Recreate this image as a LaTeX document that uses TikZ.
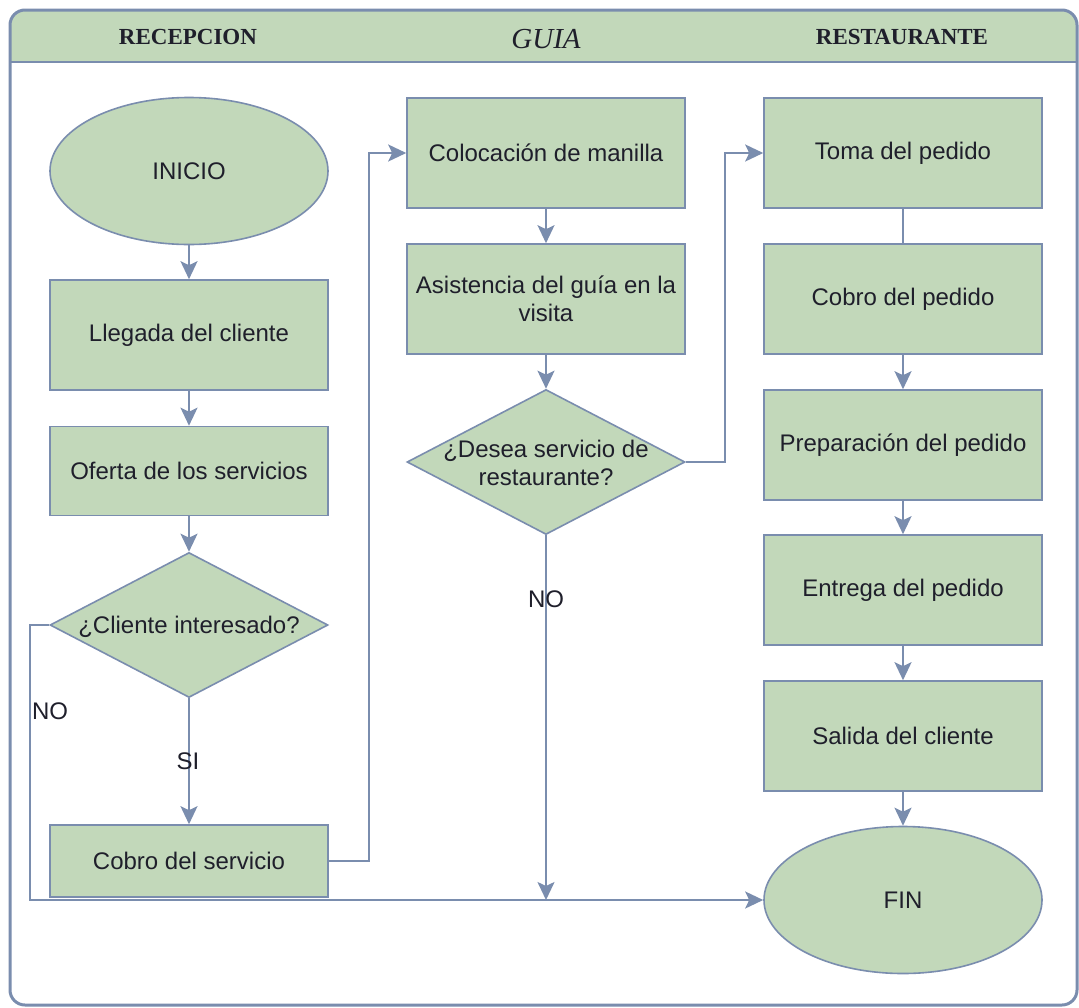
\documentclass[tikz,border=0pt]{standalone}
\usepackage{fontspec}
\setmainfont{Liberation Sans}
\newfontfamily\hdrfont{Liberation Serif}
\usetikzlibrary{shapes.geometric,arrows.meta}
\definecolor{fillg}{HTML}{C2D8BA}
\definecolor{strk}{HTML}{7A8DAE}
\definecolor{txt}{HTML}{1F1F2B}
\begin{document}
\begin{tikzpicture}[x=1pt,y=-1pt,
 base/.style={draw=strk, line width=1.6pt, fill=fillg, text=txt, font=\fontsize{24}{28}\selectfont, align=center, inner sep=0pt},
 proc/.style={base, rectangle, minimum width=278pt, minimum height=110pt},
 term/.style={base, ellipse, minimum width=278pt, minimum height=147pt},
 dec/.style={base, diamond, minimum width=278pt, minimum height=145pt},
 conn/.style={draw=strk, line width=2pt},
 arr/.style={conn, -{Stealth[length=18pt,width=17pt,inset=4pt]}},
 lbl/.style={text=txt, font=\fontsize{24}{28}\selectfont, inner sep=0pt},
 hdr/.style={text=txt, inner sep=0pt}]
\useasboundingbox (0,0) rectangle (1079,1007);
\fill[white] (0,0) rectangle (1079,1007);
% frame and header
\begin{scope}
\clip (0,0) rectangle (1079,62);
\fill[fillg, rounded corners=15pt] (10,10) rectangle (1077,120);
\end{scope}
\draw[strk, line width=3pt, rounded corners=15pt] (10,10) rectangle (1077,1005);
\draw[strk, line width=2.2pt] (10,62) -- (1077,62);
\node[hdr, font=\hdrfont\bfseries\fontsize{23}{26}\selectfont] (h1) at (188,37) {RECEPCION};
\node[hdr, font=\hdrfont\itshape\fontsize{29}{32}\selectfont] (h2) at (546,39) {GUIA};
\node[hdr, font=\hdrfont\bfseries\fontsize{23}{26}\selectfont] (h3) at (902,37) {RESTAURANTE};
% nodes
\node[term] (ini) at (189,171) {INICIO};
\node[proc] (lleg) at (189,335) {Llegada del cliente};
\node[proc, minimum height=89pt] (ofer) at (189,471) {Oferta de los servicios};
\node[dec] (d1) at (189,625) {};
\node[lbl] (d1t) at (189,627) {¿Cliente interesado?};
\node[proc, minimum height=72pt] (cobs) at (189,861) {Cobro del servicio};
\node[proc] (col) at (546,153) {Colocación de manilla};
\node[proc] (asis) at (546,299) {Asistencia del guía en la\\visita};
\node[dec] (d2) at (546,462) {};
\node[lbl, align=center] (d2t) at (546,463) {¿Desea servicio de\\restaurante?};
\node[proc] (toma) at (903,153) {Toma del pedido};
\node[proc] (cobp) at (903,299) {Cobro del pedido};
\node[proc] (prep) at (903,445) {Preparación del pedido};
\node[proc] (entr) at (903,590) {Entrega del pedido};
\node[proc] (sal) at (903,736) {Salida del cliente};
\node[term] (fin) at (903,900) {FIN};
% connectors
\draw[arr] (ini) -- (lleg);
\draw[arr] (lleg) -- (ofer);
\draw[arr] (ofer) -- (d1);
\draw[arr] (d1) -- (cobs);
\draw[arr] (d1.west) -- ++(-19,0) |- (fin.west);
\draw[arr] (cobs.east) -- ++(40,0) |- (col.west);
\draw[arr] (col) -- (asis);
\draw[arr] (asis) -- (d2);
\draw[arr] (d2.east) -- ++(39,0) |- (toma.west);
\draw[arr] (d2.south) -- (d2.south |- fin.west);
\draw[conn] (toma) -- (cobp);
\draw[arr] (cobp) -- (prep);
\draw[arr] (prep) -- (entr);
\draw[arr] (entr) -- (sal);
\draw[arr] (sal) -- (fin);
% labels
\node[lbl] (no1) at (50,711) {NO};
\node[lbl] (si) at (188,761) {SI};
\node[lbl] (no2) at (546,599) {NO};
\end{tikzpicture}
\end{document}
